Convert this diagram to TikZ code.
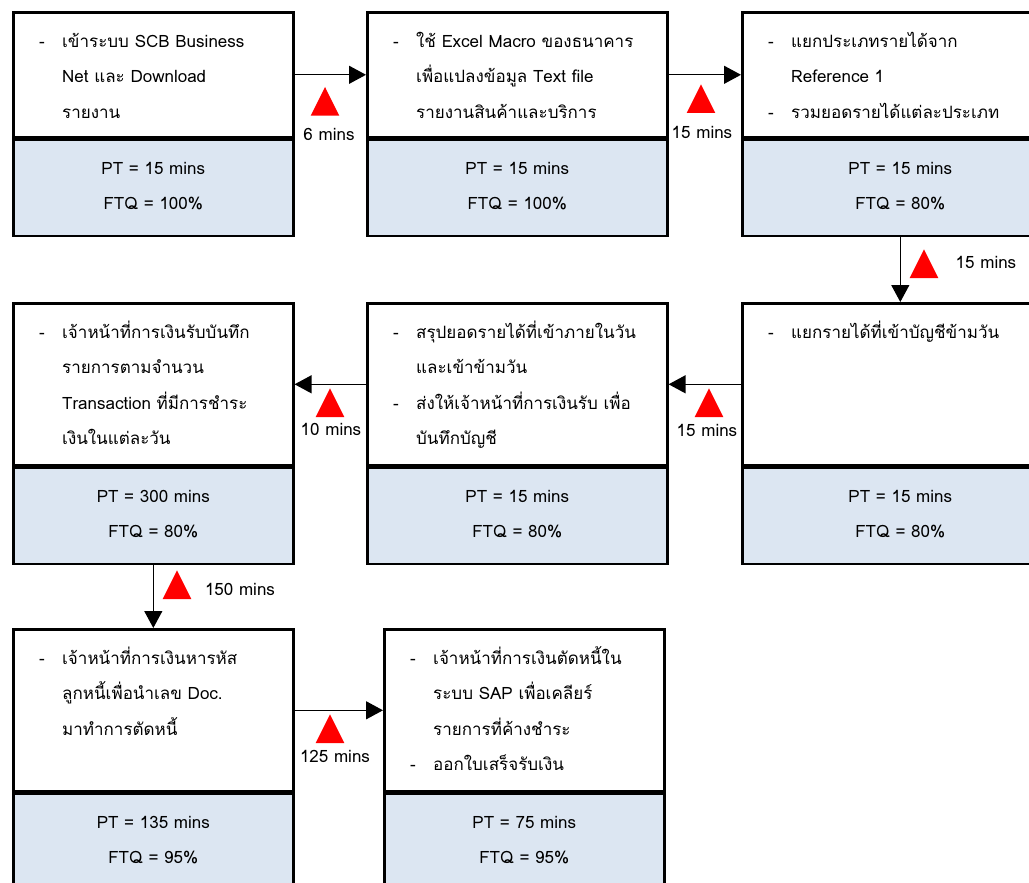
\documentclass[tikz,border=0pt]{standalone}
\usepackage{fontspec}
\setmainfont[Script=Thai]{Loma}
\usetikzlibrary{arrows.meta}
\usetikzlibrary{calc}
\definecolor{ptblue}{HTML}{DCE6F2}
\newcommand{\boxfont}{\fontsize{17}{35.5}\selectfont}
\newcommand{\steplist}[1]{\begin{tabular}{@{}p{23pt}@{}l@{}}#1\end{tabular}}
\newcommand{\ptlist}[2]{\raisebox{3pt}[\height][\depth]{\begin{tabular}{@{}c@{}}PT = #1 mins\\FTQ = #2\%\end{tabular}}}
\tikzset{
    delaymark/.pic={\fill[red] (-14.3,0) -- (14.3,0) -- (0,-28.7) -- cycle;}
}

\begin{document}
\begin{tikzpicture}[x=1pt,y=-1pt,font=\boxfont,
    stepbox/.style={draw=black,line width=2.6pt,fill=white,anchor=north west,inner sep=0pt},
    ptbox/.style={stepbox,fill=ptblue,minimum height=96pt},
    steptext/.style={anchor=north west,inner sep=0pt},
    flow/.style={-{Triangle[length=17pt,width=18pt]},line width=1.3pt},
    waitlabel/.style={inner sep=0pt}]

    \path[use as bounding box] (0,0) rectangle (1029,883);
    \clip (0,0) rectangle (1029,883);

    % row 1
    \node[stepbox,minimum width=280pt,minimum height=125pt] (b1) at (12,11) {};
    \node[ptbox,minimum width=280pt] (p1) at (b1.south west) {\ptlist{15}{100}};
    \node[stepbox,minimum width=300pt,minimum height=125pt] (b2) at (366,11) {};
    \node[ptbox,minimum width=300pt] (p2) at (b2.south west) {\ptlist{15}{100}};
    \node[stepbox,minimum width=316pt,minimum height=125pt] (b3) at (741,11) {};
    \node[ptbox,minimum width=316pt] (p3) at (b3.south west) {\ptlist{15}{80}};

    \node[steptext] (t1) at ($(b1.north west)+(27,11)$) {\steplist{-&เข้าระบบ SCB Business\\&Net และ Download\\&รายงาน}};
    \node[steptext] (t2) at ($(b2.north west)+(27,11)$) {\steplist{-&ใช้ Excel Macro ของธนาคาร\\&เพื่อแปลงข้อมูล Text file\\&รายงานสินค้าและบริการ}};
    \node[steptext] (t3) at ($(b3.north west)+(27,11)$) {\steplist{-&แยกประเภทรายได้จาก\\&Reference 1\\-&รวมยอดรายได้แต่ละประเภท}};

    % row 2
    \node[stepbox,minimum width=280pt,minimum height=162pt] (b4) at (12,302) {};
    \node[ptbox,minimum width=280pt] (p4) at (b4.south west) {\ptlist{300}{80}};
    \node[stepbox,minimum width=300pt,minimum height=162pt] (b5) at (366,302) {};
    \node[ptbox,minimum width=300pt] (p5) at (b5.south west) {\ptlist{15}{80}};
    \node[stepbox,minimum width=316pt,minimum height=162pt] (b6) at (741,302) {};
    \node[ptbox,minimum width=316pt] (p6) at (b6.south west) {\ptlist{15}{80}};

    \node[steptext] (t4) at ($(b4.north west)+(27,11)$) {\steplist{-&เจ้าหน้าที่การเงินรับบันทึก\\&รายการตามจำนวน\\&Transaction ที่มีการชำระ\\&เงินในแต่ละวัน}};
    \node[steptext] (t5) at ($(b5.north west)+(27,11)$) {\steplist{-&สรุปยอดรายได้ที่เข้าภายในวัน\\&และเข้าข้ามวัน\\-&ส่งให้เจ้าหน้าที่การเงินรับ เพื่อ\\&บันทึกบัญชี}};
    \node[steptext] (t6) at ($(b6.north west)+(27,11)$) {\steplist{-&แยกรายได้ที่เข้าบัญชีข้ามวัน}};

    % row 3
    \node[stepbox,minimum width=280pt,minimum height=162pt] (b7) at (12,628) {};
    \node[ptbox,minimum width=280pt] (p7) at (b7.south west) {\ptlist{135}{95}};
    \node[stepbox,minimum width=280pt,minimum height=162pt] (b8) at (383,628) {};
    \node[ptbox,minimum width=280pt] (p8) at (b8.south west) {\ptlist{75}{95}};

    \node[steptext] (t7) at ($(b7.north west)+(27,11)$) {\steplist{-&เจ้าหน้าที่การเงินหารหัส\\&ลูกหนี้เพื่อนำเลข Doc.\\&มาทำการตัดหนี้}};
    \node[steptext] (t8) at ($(b8.north west)+(27,11)$) {\steplist{-&เจ้าหน้าที่การเงินตัดหนี้ใน\\&ระบบ SAP เพื่อเคลียร์\\&รายการที่ค้างชำระ\\-&ออกใบเสร็จรับเงิน}};

    % flow and waiting time
    \draw[flow] (b1.east) -- (b2.west);
    \draw[flow] (b2.east) -- (b3.west);
    \draw[flow] (p3.south) -- (b6.north);
    \draw[flow] (b6.west) -- (b5.east);
    \draw[flow] (b5.west) -- (b4.east);
    \draw[flow] (p4.south) -- (b7.north);
    \draw[flow] (b7.east) -- (b8.west);

    \pic at (325,115.7) {delaymark};
    \node[waitlabel] (w12) at (329,134) {6 mins};
    \pic at (701,113) {delaymark};
    \node[waitlabel] (w23) at (702,132) {15 mins};
    \pic at (924,278) {delaymark};
    \node[waitlabel] (w36) at (986,262) {15 mins};
    \pic at (709,417) {delaymark};
    \node[waitlabel] (w65) at (707,430) {15 mins};
    \pic at (330,417) {delaymark};
    \node[waitlabel] (w54) at (331,429) {10 mins};
    \pic at (177,599) {delaymark};
    \node[waitlabel] (w47) at (240,589) {150 mins};
    \pic at (330,743) {delaymark};
    \node[waitlabel] (w78) at (335,756) {125 mins};

\end{tikzpicture}
\end{document}
